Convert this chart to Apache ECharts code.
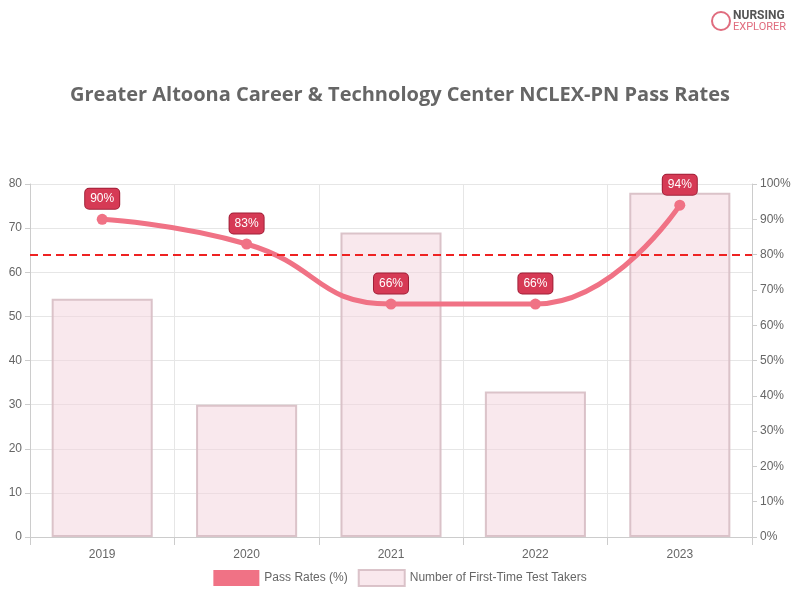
<!DOCTYPE html><html><head><meta charset="utf-8"><script src="https://cdn.jsdelivr.net/npm/echarts@6/dist/echarts.min.js"></script></head><body style="margin:0"><div id="c" style="width:800px;height:600px"></div><script>
const categories=['2019','2020','2021','2022','2023'];
const takers=[54,30,69,33,78];
const passRates=[90,83,66,66,94];
const c=echarts.init(document.getElementById('c'));
c.setOption({
graphic:[{type:'circle',shape:{cx:721,cy:21,r:9},style:{fill:'none',stroke:'#e06c7e',lineWidth:2}},
{type:'text',left:733,top:10,style:{text:'NURSING',font:'bold 12px Roboto',fill:'#555'}},
{type:'text',left:733,top:22,style:{text:'EXPLORER',font:'11px Roboto',fill:'#e06c7e'}}],
title:{text:'Greater Altoona Career & Technology Center NCLEX-PN Pass Rates',left:'center',top:80,textStyle:{fontFamily:'Open Sans',fontSize:20,fontWeight:'bold',color:'#666'}},
legend:{bottom:8,itemWidth:46,itemHeight:16,itemGap:10,textStyle:{color:'#666',fontSize:12},data:[{name:'Pass Rates (%)',icon:'rect'},{name:'Number of First-Time Test Takers',icon:'rect'}]},
grid:{left:30,right:48,top:184,bottom:63},
xAxis:{type:'category',data:categories,axisTick:{show:true,length:8},axisLine:{lineStyle:{color:'#ccc'}},axisLabel:{color:'#666',margin:12},splitLine:{show:true,lineStyle:{color:'#e6e6e6'}}},
yAxis:[{type:'value',min:0,max:80,interval:10,axisLine:{show:true,lineStyle:{color:'#ccc'}},axisTick:{show:true},axisLabel:{color:'#666'},splitLine:{lineStyle:{color:'#e6e6e6'}}},
{type:'value',min:0,max:100,interval:10,axisLine:{show:true,lineStyle:{color:'#ccc'}},axisTick:{show:true},axisLabel:{color:'#666',formatter:'{value}%'},splitLine:{show:false}}],
series:[
{name:'Number of First-Time Test Takers',type:'bar',data:takers,barWidth:'70%',itemStyle:{color:'rgba(244,210,219,0.5)',borderColor:'rgba(215,190,196,0.9)',borderWidth:2}},
{name:'Pass Rates (%)',type:'line',yAxisIndex:1,smooth:0.5,data:passRates,symbol:'circle',symbolSize:11,lineStyle:{width:5,color:'#f07285'},itemStyle:{color:'#f07285'},
label:{show:true,position:'top',distance:5,formatter:'{c}%',color:'#fff',backgroundColor:'#d63a55',borderColor:'#a02038',borderWidth:1,borderRadius:4,padding:[4,5],fontSize:12},
markLine:{silent:true,symbol:'none',label:{show:false},lineStyle:{color:'#ee2222',type:[8,5],width:2},data:[{yAxis:80}]}}
]});
</script></body></html>
